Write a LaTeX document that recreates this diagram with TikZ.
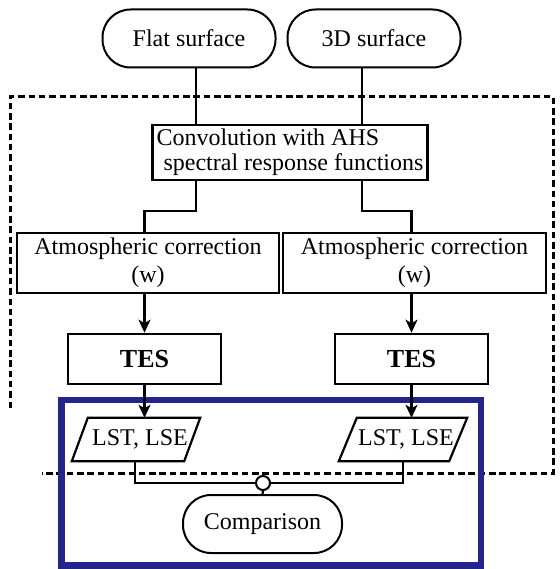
\documentclass[tikz,border=0pt]{standalone}
\usepackage{fontspec}
\setmainfont{Liberation Serif}
\usetikzlibrary{arrows.meta}
\definecolor{frameblue}{RGB}{36,36,140}
\begin{document}
\begin{tikzpicture}[x=1pt,y=-1pt,
  every node/.style={font=\fontsize{24}{28}\selectfont, inner sep=0pt},
  terminal/.style={draw, line width=2pt, rounded corners=28pt, minimum height=58pt},
  procbox/.style={draw, line width=2.6pt, rectangle},
  datatext/.style={rectangle, minimum height=43pt},
  dataedge/.style={line width=2.2pt, line join=miter},
  link/.style={line width=2.2pt},
  arrow/.style={line width=2.2pt, -{Stealth[length=13pt,width=12pt,inset=3.5pt]}},
  region/.style={line width=3pt, dash pattern=on 6.5pt off 3.8pt},
  focus/.style={draw=frameblue, line width=6.5pt}]
\useasboundingbox (0,0) rectangle (559,569);

% processing region (dashed outline, open at the lower left)
\draw[region] (10,408) -- (10,97) -- (553,97) -- (553,473) -- (42,473);

% evaluation frame
\draw[focus] (61.5,400) rectangle (481,565.5);

% inputs
\node[terminal, minimum width=173pt] (flat) at (189,38.5) {Flat surface};
\node[terminal, minimum width=173pt] (solid) at (374,38.5) {3D surface};

% spectral convolution
\node[procbox, minimum width=275pt, minimum height=55pt,
  font=\fontsize{24}{25}\selectfont, align=left] (conv) at (290,152.5)
  {Convolution with AHS\\\hspace{7pt}spectral response functions};

% atmospheric correction
\node[procbox, minimum width=262pt, minimum height=60pt, align=center] (atm1) at (148,263)
  {Atmospheric correction\\(w)};
\node[procbox, minimum width=263pt, minimum height=60pt, align=center] (atm2) at (414.5,263)
  {Atmospheric correction\\(w)};

% temperature emissivity separation
\node[procbox, minimum width=153pt, minimum height=50pt,
  font=\fontsize{26}{28}\selectfont\bfseries] (tes1) at (144.5,359) {TES};
\node[procbox, minimum width=153pt, minimum height=50pt,
  font=\fontsize{26}{28}\selectfont\bfseries] (tes2) at (411.5,359) {TES};

% products: slanted data boxes drawn around the text nodes
\node[datatext, minimum width=112pt] (lst1) at (140,439.5) {LST, LSE};
\node[datatext, minimum width=110pt] (lst2) at (406,439.5) {LST, LSE};
\draw[dataedge] ([xshift=4pt]lst1.north west) -- ([xshift=4pt]lst1.north east)
  -- ([xshift=-12pt]lst1.south east) -- ([xshift=-12pt]lst1.south west) -- cycle;
\draw[dataedge] ([xshift=6pt]lst2.north west) -- ([xshift=6pt]lst2.north east)
  -- ([xshift=-12pt]lst2.south east) -- ([xshift=-12pt]lst2.south west) -- cycle;

% junction and comparison
\node[draw, circle, line width=2pt, fill=white, minimum size=14pt] (jn) at (263,483) {};
\node[terminal, minimum width=159pt] (cmp) at (262.5,524) {Comparison};

% connectors
\coordinate (ca) at (196,0);
\coordinate (cb) at (362,0);
\coordinate (la) at (135,0);
\coordinate (lb) at (403,0);
\draw[link] (flat.south -| ca) -- (conv.north -| ca);
\draw[link] (solid.south -| cb) -- (conv.north -| cb);
\draw[link] (conv.south -| ca) -- ++(0,30) -| (atm1.north -| tes1);
\draw[link] (conv.south -| cb) -- ++(0,30) -| (atm2.north -| tes2);
\draw[arrow] (atm1.south -| tes1) -- (tes1.north);
\draw[arrow] (atm2.south -| tes2) -- (tes2.north);
\draw[arrow] (tes1.south) -- (lst1.north -| tes1);
\draw[arrow] (tes2.south) -- (lst2.north -| tes2);
\draw[link] (lst1.south -| la) |- (jn.west);
\draw[link] (lst2.south -| lb) |- (jn.east);
\draw[link] (jn.south) -- (cmp.north);
\end{tikzpicture}
\end{document}
